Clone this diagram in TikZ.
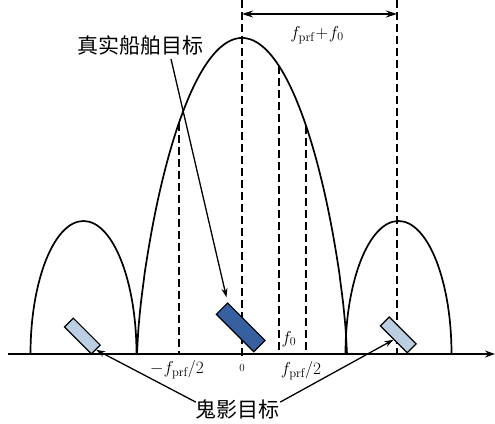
\documentclass[tikz,border=0pt]{standalone}
\usepackage{amsmath}
\usepackage{fontspec}
\newfontfamily\cjk{Noto Sans CJK SC}
\usetikzlibrary{arrows.meta}

\begin{document}
\begin{tikzpicture}[x=1pt, y=1pt, >={Stealth[length=9pt,width=6pt]}]

        % Colours of the ship targets
        \definecolor{shipblue}{RGB}{54,96,160}
        \definecolor{ghostblue}{RGB}{188,206,226}

        \tikzset{
            lobe/.style={line width=1.7pt},
            guide/.style={line width=1.5pt, dash pattern=on 8pt off 4pt},
            pointer/.style={->, line width=1.3pt},
            cjklabel/.style={font=\cjk\fontsize{21}{24}\selectfont, inner sep=0pt},
            mathlabel/.style={font=\fontsize{18}{20}\selectfont, inner sep=0pt},
            shipbox/.style={draw, line width=1.2pt, rotate=-45, inner sep=0pt}
        }

        \useasboundingbox (-242,-69) rectangle (253,354);

        % Frequency axis
        \draw[line width=1.6pt, -{Stealth[length=10pt,width=7pt]}] (-234,0) -- (253,0);

        % Main lobe of the azimuth spectrum
        \draw[lobe] plot[domain=-105:105, samples=161, smooth]
            (\x, {316*exp(0.7*ln(max(1-(\x/105)*(\x/105),0.00001)))});

        % Ambiguous side lobes
        \foreach \c in {-158.5, 156.5} {
            \draw[lobe] (\c-53,0) arc (180:0:53 and 133);
        }

        % Dashed guide lines
        \draw[guide] (0,354) -- (0,-6);
        \draw[guide] (155,354) -- (155,0);
        \foreach \xg/\yg in {-63/231, 37/288, 64/228} {
            \draw[guide] (\xg,\yg) -- (\xg,0);
        }

        % Shift between real and ghost target
        \draw[line width=1.5pt, {Stealth[length=11pt,width=7pt]}-{Stealth[length=11pt,width=7pt]}] (0,340) -- (155,340);
        \node[mathlabel] (shift) at (75,319) {$f_{\mathrm{prf}}\!+\!f_0$};

        % Axis labels
        \node[mathlabel] (neghalf) at (-65,-16) {$-f_{\mathrm{prf}}/2$};
        \node[font=\fontsize{11}{12}\selectfont, inner sep=0pt] (zero) at (0,-13.7) {0};
        \node[mathlabel] (fzero) at (47,15) {$f_0$};
        \node[mathlabel] (poshalf) at (59,-17) {$f_{\mathrm{prf}}/2$};

        % Real ship and its ghosts
        \node[shipbox, fill=shipblue, minimum width=53pt, minimum height=16pt] (real) at (-1.3,26.6) {};
        \node[shipbox, fill=ghostblue, minimum width=38pt, minimum height=12.5pt] (ghostL) at (-159.7,18) {};
        \node[shipbox, fill=ghostblue, minimum width=38pt, minimum height=12.5pt] (ghostR) at (156.3,19.1) {};

        % Target labels
        \node[cjklabel] (realtxt) at (-101,308) {真实船舶目标};
        \node[cjklabel] (ghosttxt) at (-4,-55) {鬼影目标};

        \draw[pointer, shorten >=5pt] ([xshift=30pt, yshift=-3pt]realtxt.south) -- (real.north west);
        \draw[pointer] ([yshift=-3pt]ghosttxt.north west) -- (ghostL.east);
        \draw[pointer] ([yshift=-3pt]ghosttxt.north east) -- (ghostR.south);

    \end{tikzpicture}
\end{document}
